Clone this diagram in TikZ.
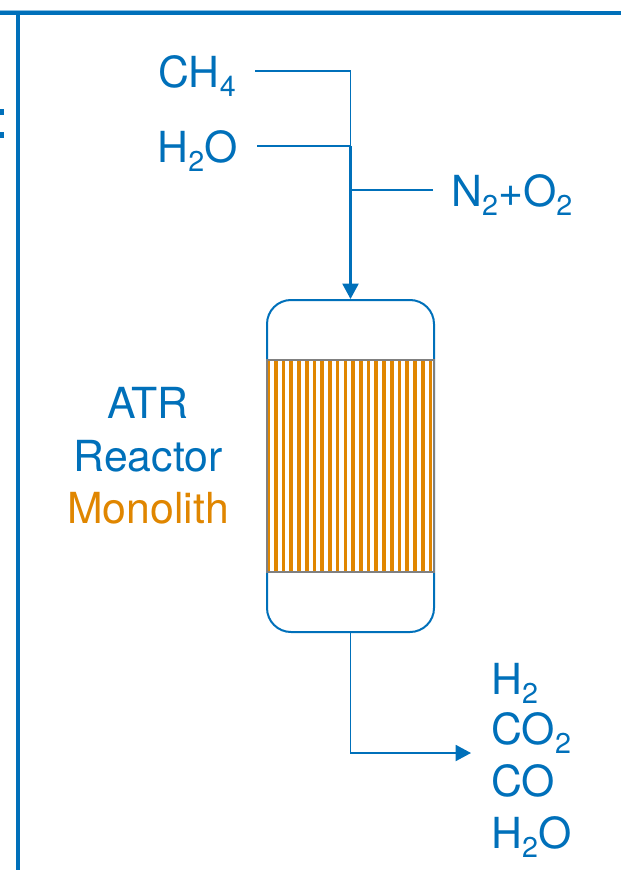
\documentclass[tikz,border=0pt]{standalone}
\usepackage{fontspec}
\setmainfont{TeX Gyre Heros}
\usetikzlibrary{arrows.meta}
\definecolor{bl}{HTML}{0070BA}
\definecolor{og}{HTML}{E08600}
\definecolor{gy}{HTML}{808080}
\newcommand{\sbs}[1]{\raisebox{-6.5pt}{\fontsize{21.5pt}{21.5pt}\selectfont #1}}
\tikzset{
  flow/.style={draw=bl,line width=1.4pt},
  flowarrow/.style={draw=bl,line width=1.6pt,-{Triangle[length=11.5pt,width=12pt]}},
  frame/.style={fill=bl,draw=none},
  lbl/.style={text=bl,font=\fontsize{32.1pt}{32.1pt}\selectfont,inner ysep=0pt,text height=32pt,text depth=6.75pt},
  plain/.style={lbl,inner xsep=0pt},
  vessel/.style={draw=bl,line width=1.5pt,fill=white,rounded corners=18pt,minimum width=125.25pt,minimum height=249pt,inner sep=0pt},
  mono/.style={draw=gy,line width=1.6pt,minimum width=125.25pt,minimum height=159pt,inner sep=0pt},
  bar/.style={fill=og,draw=none}
}
\begin{document}
\begin{tikzpicture}[x=0.75pt,y=-0.75pt]
\useasboundingbox (0,0) rectangle (621,870);
% frame
\fill[color=bl!45] (0,10) rectangle (570,11);
\fill[frame] (0,11) rectangle (621,15);
\fill[frame] (16,14) rectangle (20,870);
\fill[frame] (0,109) rectangle (4,115);
\fill[frame] (0,132) rectangle (4,138);
% reactor
\node[vessel] (reactor) at (350.5,466) {};
\foreach \k in {-1,...,20}{
  \fill[bar] ({275.8+7.73*\k-1.85},360) rectangle ({275.8+7.73*\k+1.85},572);
}
\node[mono] (monolith) at (350.5,466) {};
% feed labels
\node[lbl,anchor=east,inner xsep=19*0.75pt] (ch4) at (255,71) {CH\sbs{4}};
\node[lbl,anchor=east,inner xsep=19*0.75pt] (h2o) at (257,146) {H\sbs{2}O};
\node[lbl,anchor=west,inner xsep=18*0.75pt] (air) at (433,190) {N\sbs{2}+O\sbs{2}};
\coordinate (j1) at (reactor.north |- ch4.east);
\coordinate (j2) at (reactor.north |- h2o.east);
\coordinate (j3) at (reactor.north |- air.west);
\draw[flow] (ch4.east) -- (j1) -- (j2);
\draw[flow] (h2o.east) -- (j2);
\draw[flow] (air.west) -- (j3);
\draw[flowarrow] (j2) -- (reactor.north);
% side labels
\node[plain] (atr) at (148,402) {ATR};
\node[plain] (rct) at (148,455) {Reactor};
\node[plain,text=og] (mon) at (148,507) {Monolith};
% product labels
\node[plain,anchor=west] (p1) at (491,678) {H\sbs{2}};
\node[plain,anchor=west] (p2) at (491,728) {CO\sbs{2}};
\node[plain,anchor=west] (p3) at (491,780) {CO};
\node[plain,anchor=west] (p4) at (491,832) {H\sbs{2}O};
\coordinate (out) at (471,753);
\draw[flowarrow,line width=1.4pt] (reactor.south) |- (out);
\end{tikzpicture}
\end{document}
